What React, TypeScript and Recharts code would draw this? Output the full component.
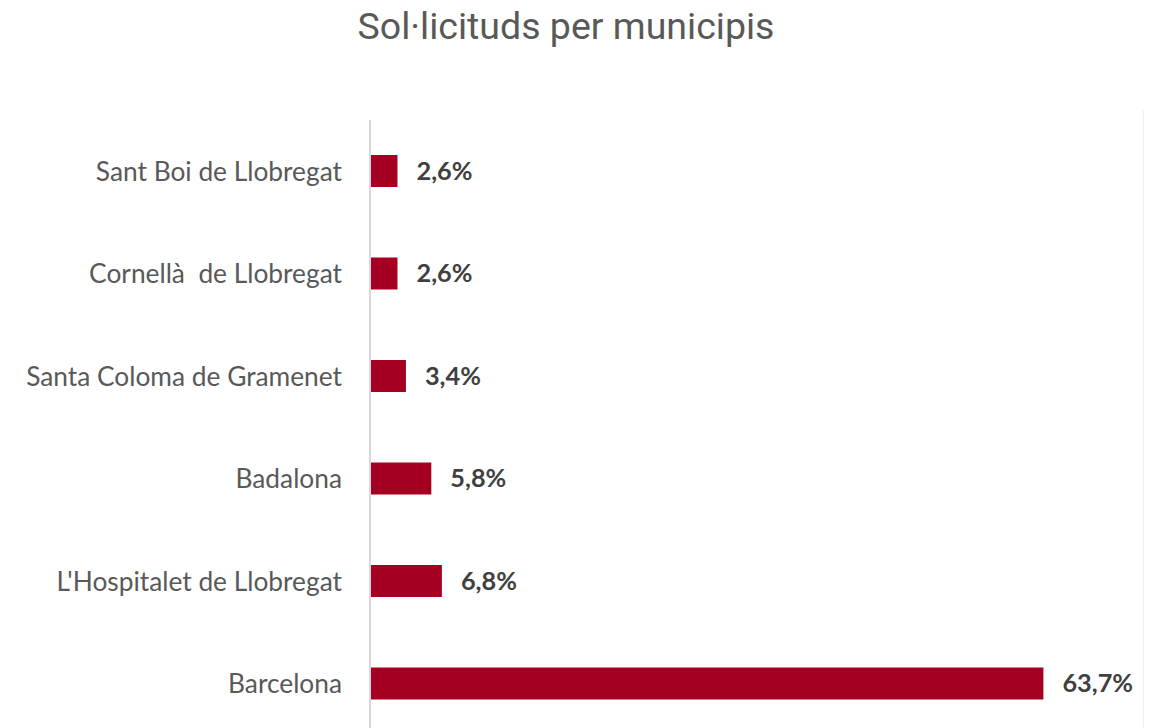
import { BarChart, Bar, XAxis, YAxis, LabelList } from "recharts";

const municipis = [
  "Sant Boi de Llobregat",
  "Cornellà\u00a0 de Llobregat",
  "Santa Coloma de Gramenet",
  "Badalona",
  "L'Hospitalet de Llobregat",
  "Barcelona",
];
const percentatges = [2.6, 2.6, 3.4, 5.8, 6.8, 63.7];

const data = municipis.map((name, i) => ({ name, value: percentatges[i] }));

const BAR_COLOR = "#a50021";
const LABEL_FONT = "Lato, 'Open Sans', sans-serif";

const App = () => {
  return <div style={{
    position: "absolute",
    left: 0,
    top: 0,
    width: 1158,
    height: 728,
    overflow: "hidden",
    background: "#fff"
  }}>
      <div style={{
      position: "absolute",
      left: 0,
      width: 1158,
      top: 4,
      textAlign: "center",
      fontFamily: "Roboto, sans-serif",
      fontSize: 37.5,
      color: "#595959"
    }}>
        <span style={{ position: "relative", left: -13 }}>Sol·licituds per municipis</span>
      </div>
      <div style={{
      position: "absolute",
      left: 1143,
      top: 110,
      width: 1,
      height: 618,
      background: "#f0f0f0"
    }} />
      <div style={{ position: "absolute", left: 0, top: 0 }}>
        <BarChart width={1158} height={735} data={data} layout="vertical" margin={{
        top: 120,
        right: 48,
        left: 0,
        bottom: 0
      }}>
          <XAxis type="number" domain={[0, 70]} hide />
          <YAxis type="category" dataKey="name" width={370} tickLine={false} axisLine={{
          stroke: "#d9d9d9",
          strokeWidth: 2
        }} tickMargin={22} tick={{
          fill: "#595959",
          fontSize: 26.3,
          fontFamily: LABEL_FONT
        }} interval={0} />
          <Bar dataKey="value" fill={BAR_COLOR} barSize={32} isAnimationActive={false}>
            <LabelList dataKey="value" position="right" offset={19} formatter={(v: number) => `${v.toFixed(1).replace(".", ",")}%`} style={{
            fill: "#404040",
            fontSize: 25.3,
            fontWeight: "bold",
            fontFamily: LABEL_FONT
          }} />
          </Bar>
        </BarChart>
      </div>
    </div>;
};

export default App;
